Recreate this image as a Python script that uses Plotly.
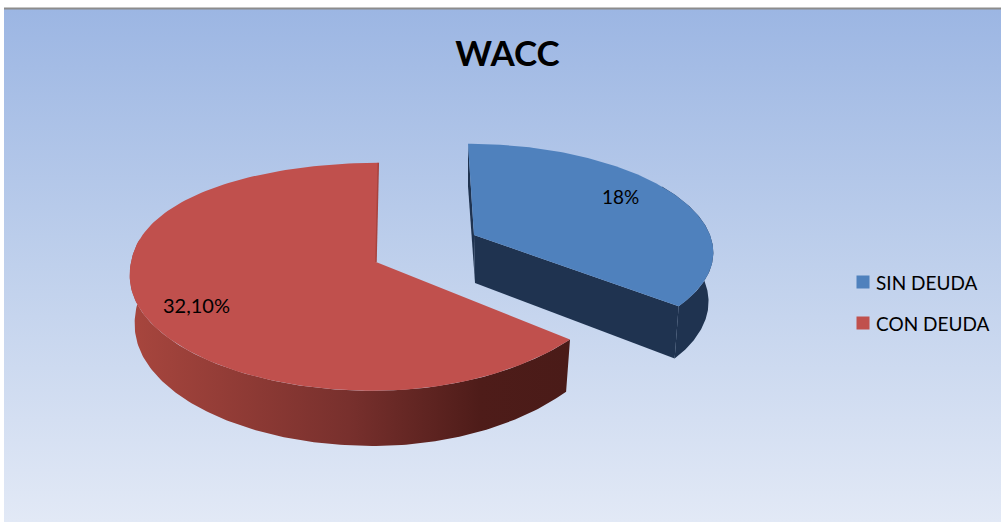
import numpy as np
import plotly.graph_objects as go

TITLE = "WACC"
categories = ["SIN DEUDA", "CON DEUDA"]
values = [18.0, 32.1]
value_labels = ["18%", "32,10%"]
colors = ["#4F81BD", "#C0504D"]

W, H = 1001, 522
P, D, DEPTH = 0.13, 862.0, 48.0
BLUE = dict(apex=(474.0, 235.0), yscale=0.92, vx=422.0, rx=236.0, tilt=-2.0)
RED = dict(apex=(376.0, 262.0), yscale=1.0, vx=396.0, rx=245.0, tilt=20.0)


def project(theta, s, low=False):
    """Project a point of the unit pie disc (clockwise from the top) on to the page."""
    X, Y = np.sin(theta), np.cos(theta)
    w = 1 + P * Y
    k = 0.98 if low else 1.0
    apex = s["apex"]
    # the left half of the disc leans less towards the front than the right half
    tilt = np.where(X < 0, 12.5 + 7.5 * np.tanh(4 * Y), s["tilt"])
    x = s["vx"] + ((apex[0] - s["vx"]) + k * (s["rx"] * X + tilt * X * Y)) / w
    y = apex[1] + s["yscale"] * (D / w - D) + (DEPTH / w if low else 0)
    return x, y


def wedge(t0, t1, s):
    t = np.linspace(t0, t1, 160)
    x, y = project(t, s)
    ax, ay = s["apex"]
    return np.r_[ax, x, ax], np.r_[ay, y, ay]


def wall(t0, t1, s):
    t = np.linspace(t0, t1, 160)
    x0, y0 = project(t, s)
    x1, y1 = project(t, s, True)
    return np.r_[x0, x1[::-1], x0[0]], np.r_[y0, y1[::-1], y0[0]]


total = sum(values)
split = 2 * np.pi * values[0] / total
fig = go.Figure()


def poly(x, y, **kw):
    fig.add_trace(go.Scatter(x=x, y=y, mode="lines", fill="toself", line=dict(width=0),
                             hoverinfo="skip", showlegend=False, **kw))


# chart-area background
poly([4, W, W, 4, 4], [9, 9, H, H, 9],
     fillcolor="#9CB6E3",
     fillgradient=dict(type="vertical", start=9, stop=H,
                       colorscale=[[0, "#9CB6E3"], [0.5, "#BFD0EC"], [1, "#E2E9F6"]]))
fig.add_shape(type="line", x0=4, x1=W, y0=8.5, y1=8.5, line=dict(color="#8C8C8C", width=2))

# red slice
poly(*wall(split, np.radians(282), RED), fillcolor="#7A302C",
     fillgradient=dict(type="horizontal", start=129, stop=568,
                       colorscale=[[0, "#A8463E"], [0.5, "#78302D"], [0.8, "#4E1C19"], [1, "#4A1B18"]]))
poly(*wedge(split, 2 * np.pi, RED), fillcolor=colors[1])
tx, ty = project(np.array([2 * np.pi - 1e-6]), RED)
fig.add_trace(go.Scatter(x=[tx[0], RED["apex"][0]], y=[ty[0], RED["apex"][1]], mode="lines",
                         line=dict(color="#A8433E", width=1.5), hoverinfo="skip", showlegend=False))

# blue slice
dark = "#1F3350"
ax, ay = BLUE["apex"]
x0, y0 = project(np.array([0.0]), BLUE)
x1, y1 = project(np.array([0.0]), BLUE, True)
poly([x0[0], ax, ax + 1, x1[0], x0[0]], [y0[0], ay, ay + DEPTH, y1[0], y0[0]], fillcolor=dark)
xs, ys = project(np.array([split]), BLUE)
xl, yl = project(np.array([split]), BLUE, True)
poly([ax, xs[0], xl[0], ax + 1, ax], [ay, ys[0], yl[0], ay + DEPTH, ay], fillcolor=dark)
poly(*wall(np.radians(60), split, BLUE), fillcolor=dark)
poly(*wedge(0, split, BLUE), fillcolor=colors[0])

# legend
legend_x, legend_y = 863, [282, 323]
fig.add_trace(go.Scatter(x=[legend_x] * 2, y=legend_y, mode="markers", hoverinfo="skip",
                         showlegend=False,
                         marker=dict(symbol="square", size=13, color=colors)))
for name, ly in zip(categories, legend_y):
    fig.add_annotation(x=874, y=ly, text=name, showarrow=False, xanchor="left",
                       font=dict(family="Lato", size=19, color="#000000"))

fig.add_annotation(x=620, y=196, text=value_labels[0], showarrow=False,
                   font=dict(family="Lato", size=19, color="#000000"))
fig.add_annotation(x=196, y=305, text=value_labels[1], showarrow=False,
                   font=dict(family="Lato", size=20, color="#000000"))

fig.update_layout(
    width=W, height=H, margin=dict(l=0, r=0, t=0, b=0), showlegend=False,
    paper_bgcolor="#FFFFFF", plot_bgcolor="rgba(0,0,0,0)",
    xaxis=dict(range=[0, W], visible=False, fixedrange=True),
    yaxis=dict(range=[H, 0], visible=False, fixedrange=True),
    title=dict(text="<b>" + TITLE + "</b>", x=0.507, xanchor="center", y=0.897, yanchor="middle",
               font=dict(family="Lato", size=35, color="#000000")),
)
fig.write_html("out.html", config=dict(displayModeBar=False),
               post_script="document.body.style.margin='0';document.body.style.overflow='hidden';")
